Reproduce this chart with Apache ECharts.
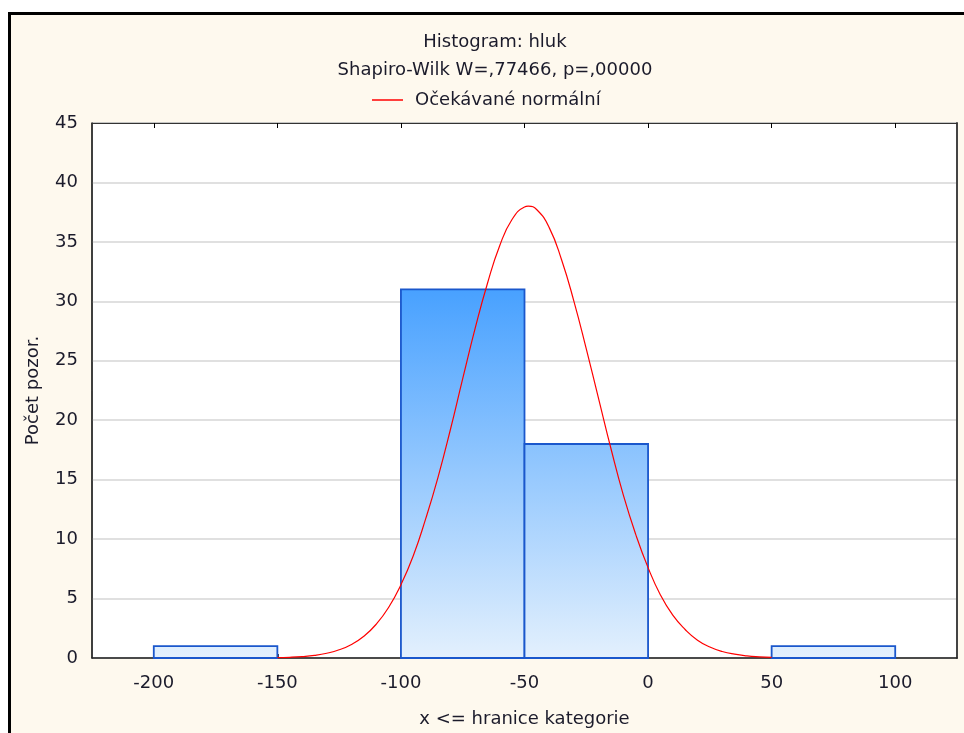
<!DOCTYPE html>
<html>
<head>
<meta charset="utf-8">
<script src="https://cdn.jsdelivr.net/npm/echarts@6/dist/echarts.min.js"></script>
<style>
  html, body { margin: 0; padding: 0; background: #fff; overflow: hidden; }
  #frame { position: absolute; left: 8px; top: 12px; width: 1000px; height: 800px;
           border-top: 3px solid #000; border-left: 3px solid #000; background: #fef9ee; }
  #chart { position: absolute; left: 0; top: 0; width: 964px; height: 733px; }
</style>
</head>
<body>
<div id="frame"></div>
<div id="chart"></div>
<script>
// histogram bins (x <= upper bound)
var binStarts = [-200, -150, -100, -50, 0, 50];
var binEnds = [-150, -100, -50, 0, 50, 100];
var counts = [1, 0, 31, 18, 0, 1];

// expected normal curve (peak near -48.5)
var curveX = [-150, -145, -140, -135, -130, -125, -120, -115, -110, -105, -100, -95, -90, -85, -80, -75, -70, -65, -60, -55, -50, -48.5, -45, -40, -35, -30, -25, -20, -15, -10, -5, 0, 5, 10, 15, 20, 25, 30, 35, 40, 45, 50];
var curveY = [0.03, 0.06, 0.12, 0.22, 0.4, 0.69, 1.14, 1.83, 2.84, 4.25, 6.16, 8.6, 11.7, 15.2, 19.2, 23.5, 27.7, 31.5, 34.7, 36.9, 37.94, 38.0, 37.7, 36.2, 33.5, 30.0, 26.0, 21.8, 17.6, 13.7, 10.4, 7.6, 5.3, 3.6, 2.4, 1.5, 0.93, 0.55, 0.32, 0.18, 0.1, 0.05];

var xTicks = [-200, -150, -100, -50, 0, 50, 100];

var ec = echarts.init(document.getElementById('chart'));
var font = 'DejaVu Sans';
var txt = '#1b1b2b';
var maxCount = Math.max.apply(null, counts);

var option = {
    backgroundColor: 'transparent',
    animation: false,
    title: {
        text: 'Histogram: hluk\nShapiro-Wilk W=,77466, p=,00000',
        left: 490,
        top: 23,
        textAlign: 'center',
        textStyle: { fontFamily: font, fontSize: 18, fontWeight: 'normal', color: txt, lineHeight: 28 }
    },
    legend: {
        top: 86,
        left: 367,
        itemWidth: 31,
        itemHeight: 1.5,
        icon: 'rect',
        textStyle: { fontFamily: font, fontSize: 18, color: txt, padding: [0, 0, 0, 7] },
        data: ['Očekávané normální']
    },
    grid: {
        left: 92, top: 123, right: 7, bottom: 75,
        show: true,
        backgroundColor: '#fff',
        borderColor: '#333',
        borderWidth: 1
    },
    xAxis: [{
        type: 'value',
        min: -225, max: 125,
        name: 'x <= hranice kategorie',
        nameLocation: 'middle',
        nameGap: 52,
        nameTextStyle: { fontFamily: font, fontSize: 18, color: txt },
        axisLine: { show: true, lineStyle: { color: '#222', width: 1.5 } },
        axisTick: { show: true, inside: true, length: 4, customValues: xTicks, lineStyle: { color: '#000', width: 1.5 } },
        axisLabel: { customValues: xTicks, margin: 16, fontFamily: font, fontSize: 18, color: txt },
        splitLine: { show: false }
    }, {
        type: 'value',
        position: 'top',
        min: -225, max: 125,
        axisLine: { show: true, onZero: false, lineStyle: { color: '#333', width: 1 } },
        axisTick: { show: true, inside: true, length: 5, customValues: xTicks, lineStyle: { color: '#000' } },
        axisLabel: { show: false },
        splitLine: { show: false }
    }],
    yAxis: [{
        type: 'value',
        min: 0, max: 45, interval: 5,
        name: 'Počet pozor.',
        nameLocation: 'middle',
        nameGap: 50,
        nameTextStyle: { fontFamily: font, fontSize: 18, color: txt },
        axisLine: { show: true, onZero: false, lineStyle: { color: '#222', width: 1.5 } },
        axisTick: { show: false },
        axisLabel: { margin: 14, fontFamily: font, fontSize: 18, color: txt },
        splitLine: { show: true, lineStyle: { color: '#d6d6d6', width: 1.5 } }
    }, {
        type: 'value',
        position: 'right',
        min: 0, max: 45, interval: 5,
        axisLine: { show: true, onZero: false, lineStyle: { color: '#444', width: 2 } },
        axisTick: { show: false },
        axisLabel: { show: false },
        splitLine: { show: false }
    }],
    series: [{
        type: 'custom',
        name: 'bins',
        xAxisIndex: 0,
        yAxisIndex: 0,
        encode: { x: [0, 1], y: 2 },
        data: binStarts.map(function (s, i) { return [s, binEnds[i], counts[i]]; }),
        renderItem: function (params, api) {
            var h = api.value(2);
            if (!h) return null;
            var p0 = api.coord([api.value(0), h]);
            var p1 = api.coord([api.value(1), 0]);
            var top = api.coord([0, maxCount])[1];
            var fill = new echarts.graphic.LinearGradient(0, top, 0, p1[1], [
                { offset: 0, color: '#48a1ff' },
                { offset: 1, color: '#e3f0fd' }
            ], true);
            return {
                type: 'rect',
                shape: { x: p0[0], y: p0[1], width: p1[0] - p0[0], height: p1[1] - p0[1] },
                style: { fill: fill, stroke: '#1a57cc', lineWidth: 1.8 }
            };
        },
        z: 2
    }, {
        type: 'line',
        name: 'Očekávané normální',
        xAxisIndex: 0,
        yAxisIndex: 0,
        data: curveX.map(function (x, i) { return [x, curveY[i]]; }),
        smooth: true,
        symbol: 'none',
        lineStyle: { color: '#ff0000', width: 1.2 },
        itemStyle: { color: '#ff0000' },
        z: 3
    }]
};
ec.setOption(option);
</script>
</body>
</html>
